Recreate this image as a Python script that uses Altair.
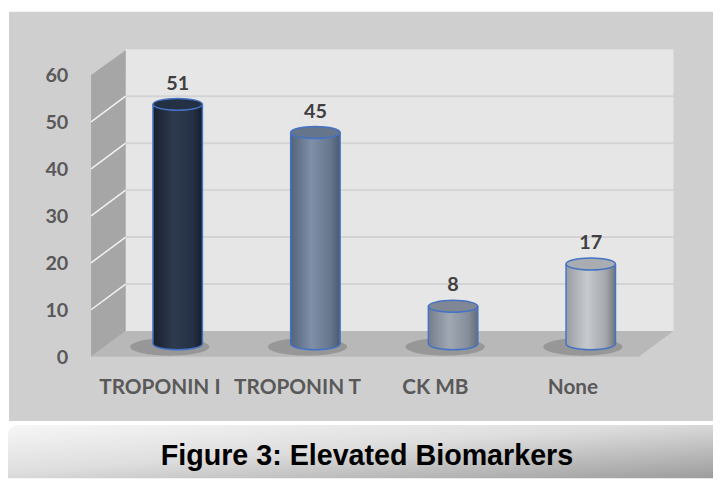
import altair as alt
import pandas as pd

# ---- data ----
categories = ["TROPONIN I", "TROPONIN T", "CK MB", "None"]
values = [51, 45, 8, 17]
y_ticks = [0, 10, 20, 30, 40, 50, 60]
title_text = "Figure 3: Elevated Biomarkers"

# ---- styles ----
body_stops = {
    "TROPONIN I": ["#18202d", "#2e3b4f", "#253145", "#161d29"],
    "TROPONIN T": ["#53637a", "#7f8fa7", "#67778e", "#4b596c"],
    "CK MB": ["#747d8b", "#a0a8b3", "#858e9b", "#656d79"],
    "None": ["#999da3", "#c6c9cd", "#a5a9ae", "#72767c"],
}
top_fill = {
    "TROPONIN I": "#243043",
    "TROPONIN T": "#65758c",
    "CK MB": "#7f8794",
    "None": "#a9adb2",
}
EDGE = "#4472c4"
W, H = 713, 473


def grad(cols, offs=(0, 0.42, 0.8, 1)):
    return alt.Gradient(
        gradient="linear",
        stops=[alt.GradientStop(color=c, offset=o) for c, o in zip(cols, offs)],
        x1=0, x2=1, y1=0, y2=0,
    )


def ell(rx, ry):
    return f"M {-rx} 0 A {rx} {ry} 0 1 0 {rx} 0 A {rx} {ry} 0 1 0 {-rx} 0 Z"


df = pd.DataFrame({"category": categories, "value": values})
ticks_df = pd.DataFrame({"t": y_ticks})
one = alt.Data(values=[{"a": 1}])

xscale = alt.Scale(domain=categories, range=[102, 659], paddingInner=0, paddingOuter=0)
yscale = alt.Scale(domain=[0, 60], range=[337, 52], nice=False, zero=True)

X = alt.X("category:N", scale=xscale, sort=categories, axis=None)

# ---- decoration ----
outer_bg = alt.Chart(one).mark_rect(fill="#d0cfd0").encode(
    x=alt.value(1), x2=alt.value(W), y=alt.value(1), y2=alt.value(415)
)
title_box = alt.Chart(one).mark_rect(
    fill=alt.Gradient(
        gradient="linear",
        stops=[alt.GradientStop(color="#f6f6f6", offset=0),
               alt.GradientStop(color="#dedede", offset=0.45),
               alt.GradientStop(color="#9c9c9c", offset=1)],
        x1=0, y1=0, x2=1, y2=1,
    ),
    cornerRadiusTopLeft=10,
).encode(x=alt.value(0), x2=alt.value(W), y=alt.value(419), y2=alt.value(H))
title = alt.Chart(one).mark_text(
    text=title_text, font="Liberation Sans", fontWeight="bold", fontSize=29,
    color="#000000", align="center", baseline="alphabetic",
).encode(x=alt.value(363), y=alt.value(459))

back_wall = alt.Chart(one).mark_rect(fill="#e6e6e6", yOffset=-13, y2Offset=-13).encode(
    x=alt.value(119), x2=alt.value(673),
    y=alt.Y(datum=60, scale=yscale, axis=None), y2=alt.Y2(datum=0),
)
grid_back = alt.Chart(ticks_df).transform_filter("datum.t > 0 && datum.t < 60").mark_rule(
    stroke="#d3d3d3", strokeWidth=2, yOffset=-13
).encode(x=alt.value(119), x2=alt.value(673), y=alt.Y("t:Q", scale=yscale, axis=None))

side_wall = alt.Chart(one).mark_point(
    shape="M 84 65 L 119 40 L 119 324 L 84 350 Z", size=4, filled=True,
    fill="#a6a6a6", opacity=1, strokeWidth=0,
).encode(x=alt.value(0), y=alt.value(0))
side_lines = alt.Chart(ticks_df).transform_filter("datum.t > 0 && datum.t < 60").mark_rule(
    stroke="#f2f2f2", strokeWidth=1.5, yOffset=13, y2Offset=-13
).encode(
    x=alt.value(84), x2=alt.value(119),
    y=alt.Y("t:Q", scale=yscale, axis=None), y2=alt.Y2("t:Q"),
)
floor = alt.Chart(one).mark_point(
    shape="M 119 324 L 673 324 L 638 350 L 84 350 Z", size=4, filled=True,
    fill="#b8b8b8", opacity=1, strokeWidth=0,
).encode(x=alt.value(0), y=alt.value(0))

# ---- tick labels (through the same scales) ----
y_labels = alt.Chart(ticks_df).mark_text(
    align="right", baseline="middle", dy=14, font="Lato", fontWeight="bold",
    fontSize=20, color="#595959",
).encode(x=alt.value(61), y=alt.Y("t:Q", scale=yscale, axis=None), text="t:Q")
x_labels = alt.Chart(df).mark_text(
    align="center", baseline="middle", dx=-18, font="Lato", fontWeight="bold",
    fontSize=21, color="#595959",
).encode(x=X, y=alt.value(382), text="category:N")

layers = [outer_bg, title_box, title, back_wall, grid_back, side_wall, side_lines, floor,
          y_labels, x_labels]

for cat in categories:
    base = alt.Chart(df).transform_filter(alt.datum.category == cat)
    g = grad(body_stops[cat])
    shadow = base.mark_point(shape=ell(40, 9), size=4, filled=True, fill="#6f6f6f",
                             opacity=0.45, strokeWidth=0, xOffset=-8, yOffset=3).encode(
        x=X, y=alt.Y(datum=0, scale=yscale, axis=None))
    bottom = base.mark_point(shape=ell(25, 6), size=4, filled=True, fill=g, opacity=1,
                             stroke=EDGE, strokeWidth=1.5).encode(
        x=X, y=alt.Y(datum=0, scale=yscale, axis=None))
    body = base.mark_bar(size=50, fill=g, strokeWidth=0).encode(
        x=X, y=alt.Y("value:Q", scale=yscale, axis=None), y2=alt.Y2(datum=0))
    left_edge = base.mark_rule(stroke=EDGE, strokeWidth=1.5, xOffset=-25).encode(
        x=X, y=alt.Y("value:Q", scale=yscale, axis=None), y2=alt.Y2(datum=0))
    right_edge = base.mark_rule(stroke=EDGE, strokeWidth=1.5, xOffset=25).encode(
        x=X, y=alt.Y("value:Q", scale=yscale, axis=None), y2=alt.Y2(datum=0))
    top = base.mark_point(shape=ell(25, 6), size=4, filled=True, fill=top_fill[cat], opacity=1,
                          stroke=EDGE, strokeWidth=1.5).encode(
        x=X, y=alt.Y("value:Q", scale=yscale, axis=None))
    label = base.mark_text(dy=-21, font="Lato", fontWeight="bold", fontSize=20,
                           color="#404040", baseline="middle").encode(
        x=X, y=alt.Y("value:Q", scale=yscale, axis=None), text="value:Q")
    layers += [shadow, bottom, body, left_edge, right_edge, top, label]

chart = alt.layer(*layers).properties(
    width=W, height=H,
    autosize=alt.AutoSizeParams(type="none"),
    padding=0,
    background="#ffffff",
).configure_view(stroke=None)

chart.save("out.html", embed_options={"renderer": "svg", "actions": False})
